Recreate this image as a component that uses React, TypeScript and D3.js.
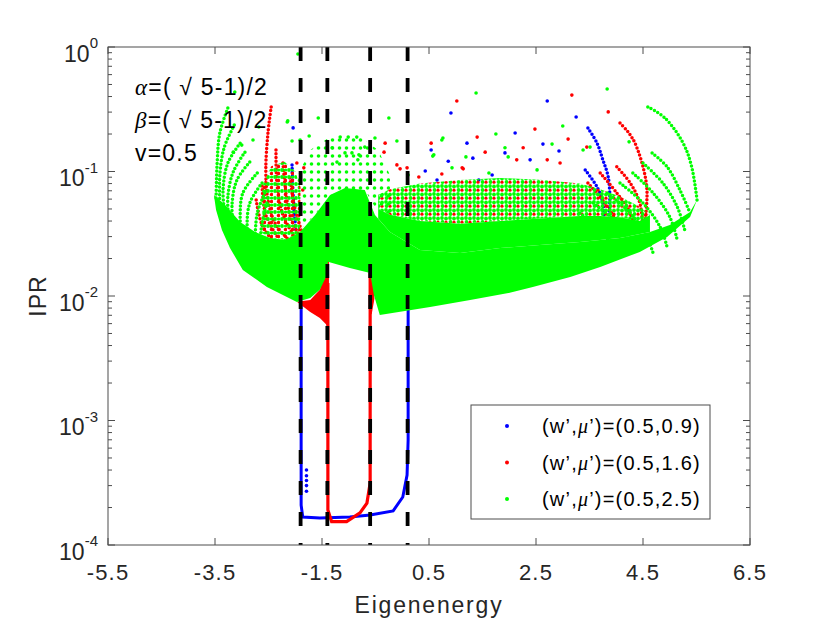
import React from "react";
import * as d3 from "d3";

type Pt = [number, number];

const xTicks = [-5.5, -3.5, -1.5, 0.5, 2.5, 4.5, 6.5];
const yExponents = [0, -1, -2, -3, -4];
const dashedX = [-1.9, -1.4, -0.6, 0.1];
const legendLabels = ["(0.5,0.9)", "(0.5,1.6)", "(0.5,2.5)"];
const seriesColors = ["#0000ff", "#ff0000", "#00ff00"];

// ---- green (w',mu')=(0.5,2.5) ----
const greenLower: Pt[] = [
  [-3.52, 0.0648], [-3.48, 0.049], [-3.37, 0.0339], [-3.22, 0.0243], [-2.98, 0.0162],
  [-2.53, 0.0118], [-1.97, 0.00895], [-1.72, 0.00964], [-1.54, 0.0112], [-1.41, 0.0147],
  [-1.39, 0.0188], [-0.98, 0.0168], [-0.6, 0.0153], [-0.53, 0.0102], [-0.42, 0.00703],
  [0.52, 0.00816], [1.27, 0.0093], [2.01, 0.0106], [2.44, 0.0118], [3.14, 0.0142],
  [3.7, 0.0171], [4.44, 0.0226], [4.95, 0.0298], [5.38, 0.0431], [5.51, 0.059],
];
const greenTop: Pt[] = [
  [-3.52, 0.0648], [-3.31, 0.0538], [-3.03, 0.0393], [-2.75, 0.0327], [-2.47, 0.0292],
  [-2.19, 0.0282], [-1.91, 0.0327], [-1.63, 0.0448], [-1.35, 0.0648], [-1.07, 0.0736],
  [-0.7, 0.071], [-0.51, 0.0448], [-0.23, 0.0327], [0.33, 0.0234], [1.08, 0.0221],
  [1.83, 0.0243], [2.57, 0.0257], [3.32, 0.0272], [4.07, 0.0292], [4.63, 0.0327],
  [5.0, 0.0372], [5.38, 0.0473], [5.51, 0.059],
];
const midDotsTop: Pt[] = [
  [-1.95, 0.0938], [-1.72, 0.149], [-1.35, 0.189], [-0.79, 0.189], [-0.45, 0.149], [-0.23, 0.0938],
];
const midDotsBase: Pt[] = [
  [-1.95, 0.0327], [-1.63, 0.0448], [-1.35, 0.0648], [-0.7, 0.071], [-0.23, 0.0327],
];
const greenArcs: Pt[][] = [
  [[-3.26, 0.324], [-3.41, 0.204], [-3.46, 0.117], [-3.48, 0.059]],
  [[-3.14, 0.236], [-3.33, 0.155], [-3.41, 0.0938], [-3.41, 0.0538]],
  [[-3.03, 0.169], [-3.26, 0.117], [-3.35, 0.071], [-3.31, 0.0431]],
  [[-2.94, 0.143], [-3.16, 0.0991], [-3.26, 0.0624], [-3.24, 0.0393]],
  [[-2.85, 0.119], [-3.09, 0.0855], [-3.18, 0.0558], [-3.16, 0.0339]],
  [[-2.71, 0.0973], [-2.98, 0.0672], [-3.03, 0.0431], [-3.0, 0.0282]],
  [[-2.62, 0.0809], [-2.85, 0.0558], [-2.9, 0.0358], [-2.85, 0.0234]],
  [[-2.57, 0.0672], [-2.71, 0.0464], [-2.75, 0.0298]],
  [[-2.53, 0.0558], [-2.62, 0.0386], [-2.66, 0.0267]],
  [[4.59, 0.33], [4.91, 0.269], [5.25, 0.169], [5.41, 0.109], [5.51, 0.059]],
  [[4.67, 0.141], [4.95, 0.109], [5.19, 0.071], [5.38, 0.0464]],
  [[4.5, 0.117], [4.87, 0.0809], [5.14, 0.0519], [5.28, 0.0339]],
  [[4.31, 0.0973], [4.69, 0.0672], [5.0, 0.0431], [5.14, 0.0282]],
  [[4.07, 0.0809], [4.5, 0.0558], [4.82, 0.0358], [4.95, 0.0248]],
  [[3.83, 0.0672], [4.26, 0.0464], [4.57, 0.0298], [4.69, 0.0221]],
  [[3.57, 0.0558], [4.01, 0.0386], [4.31, 0.0248]],
  [[3.32, 0.0464], [3.75, 0.0321], [4.01, 0.0221]],
];
const greenDots: Pt[] = [
  [-1.95, 0.879], [-3.13, 0.435], [-2.68, 0.228], [-2.14, 0.255], [-1.57, 0.269],
  [-1.74, 0.193], [-1.91, 0.179], [-1.16, 0.189], [-1.01, 0.189], [-0.85, 0.189],
  [-0.51, 0.186], [-0.25, 0.269], [-0.7, 0.157], [-0.1, 0.176], [-1.31, 0.155],
  [-1.07, 0.141], [-0.94, 0.141], [-0.81, 0.136], [-1.22, 0.119], [-0.83, 0.124],
  [0.76, 0.186], [1.38, 0.427], [1.75, 0.2], [1.92, 0.155], [1.19, 0.131],
  [0.59, 0.136], [0.11, 0.0938], [3.83, 0.46], [0.74, 0.179], [0.57, 0.133],
  [3.0, 0.232], [1.98, 0.131], [2.8, 0.166], [3.38, 0.149], [3.51, 0.157],
  [4.24, 0.173], [0.93, 0.107], [1.62, 0.0973], [2.52, 0.103], [-3.16, 0.143],
  [-3.0, 0.163], [-2.79, 0.179], [-2.15, 0.25], [-2.06, 0.176],
];

// ---- mixed fan regions (all three series overlapping) ----
const fanTop: Pt[] = [
  [-0.45, 0.065], [-0.23, 0.072], [0.33, 0.08], [1.08, 0.0855], [1.83, 0.0887],
  [2.57, 0.086], [3.32, 0.08], [3.7, 0.072], [4.07, 0.063], [4.44, 0.052], [4.63, 0.0448],
];
const fanMid: Pt[] = [
  [-0.45, 0.05], [-0.23, 0.045], [0.33, 0.04], [1.08, 0.038], [1.83, 0.04],
  [2.57, 0.042], [3.32, 0.044], [3.7, 0.044], [4.07, 0.043], [4.44, 0.04], [4.63, 0.0448],
];
const fanBase: Pt[] = [
  [-0.45, 0.042], [-0.23, 0.0327], [0.33, 0.0234], [1.08, 0.0221], [1.83, 0.0243],
  [2.57, 0.0257], [3.32, 0.0272], [4.07, 0.0292], [4.63, 0.0327],
];
const leftFanTop: Pt[] = [[-2.62, 0.075], [-2.45, 0.11], [-2.2, 0.12], [-2.0, 0.1], [-1.9, 0.075]];
const leftFanBase: Pt[] = [[-2.62, 0.032], [-2.47, 0.0292], [-2.19, 0.0282], [-1.91, 0.0327]];

// ---- red (w',mu')=(0.5,1.6) ----
const redU: Pt[] = [
  [-1.39, 0.0127], [-1.39, 0.000191], [-1.32, 0.000154], [-1.04, 0.000154],
  [-0.79, 0.000181], [-0.66, 0.000217], [-0.6, 0.000315], [-0.6, 0.00146], [-0.6, 0.0153],
];
const redWedge: Pt[] = [
  [-1.97, 0.009], [-1.72, 0.0093], [-1.54, 0.0112], [-1.41, 0.0195], [-1.37, 0.0195],
  [-1.37, 0.0056], [-1.54, 0.00665], [-1.72, 0.00744],
];
const redBlob: Pt[] = [[-0.62, 0.0153], [-0.55, 0.0153], [-0.52, 0.0095], [-0.57, 0.0072], [-0.62, 0.0068]];
const redArcs: Pt[][] = [
  [[-2.45, 0.33], [-2.51, 0.204], [-2.55, 0.103], [-2.51, 0.059], [-2.36, 0.0372], [-2.06, 0.0267]],
  [[-2.36, 0.149], [-2.34, 0.078], [-2.23, 0.0448], [-2.0, 0.0292]],
  [[-2.23, 0.117], [-2.17, 0.0648], [-2.08, 0.0418], [-1.93, 0.0309]],
  [[-2.1, 0.0887], [-2.02, 0.0538], [-1.89, 0.0339]],
  [[-2.62, 0.0765], [-2.55, 0.0448], [-2.32, 0.0292]],
  [[-2.73, 0.059], [-2.62, 0.0372], [-2.36, 0.0257]],
  [[4.07, 0.245], [4.22, 0.208], [4.35, 0.169], [4.5, 0.109], [4.57, 0.0751], [4.57, 0.0558], [4.54, 0.0408]],
  [[4.01, 0.109], [4.26, 0.0809], [4.44, 0.0558], [4.5, 0.0339]],
  [[3.7, 0.0973], [4.01, 0.0672], [4.26, 0.0464], [4.35, 0.0327]],
  [[3.47, 0.0809], [3.79, 0.0558], [4.03, 0.0386]],
];
const redDots: Pt[] = [
  [1.02, 0.368], [3.17, 0.411], [3.85, 0.301], [0.54, 0.169], [1.4, 0.189],
  [1.55, 0.143], [2.48, 0.219], [2.26, 0.155], [3.1, 0.182], [3.45, 0.157],
  [0.74, 0.0955], [1.12, 0.107], [2.14, 0.124], [2.71, 0.124], [2.95, 0.117],
  [0.31, 0.0903], [0.09, 0.107], [-0.32, 0.169], [-0.34, 0.143], [-0.1, 0.113],
  [-0.04, 0.105], [1.14, 0.105], [-1.97, 0.117], [-1.84, 0.107], [-1.86, 0.071],
];

// ---- blue (w',mu')=(0.5,0.9) ----
const blueU: Pt[] = [
  [-1.89, 0.00879], [-1.89, 0.000209], [-1.86, 0.000168], [-1.54, 0.000165],
  [-0.98, 0.000168], [-0.6, 0.000174], [-0.17, 0.000188], [0.01, 0.000243],
  [0.09, 0.000365], [0.11, 0.000697], [0.11, 0.00879],
];
const blueArcs: Pt[][] = [
  [[3.47, 0.224], [3.64, 0.169], [3.75, 0.124], [3.85, 0.0903], [3.88, 0.059], [3.86, 0.0448]],
  [[3.42, 0.103], [3.64, 0.0751], [3.75, 0.0558], [3.77, 0.0408]],
  [[-2.06, 0.113], [-2.04, 0.0648], [-1.99, 0.0339]],
];
const blueDots: Pt[] = [
  [2.71, 0.368], [0.91, 0.295], [2.11, 0.204], [3.25, 0.274], [0.54, 0.149],
  [1.21, 0.169], [1.32, 0.128], [1.92, 0.141], [2.39, 0.124], [2.63, 0.166],
  [2.93, 0.146], [0.86, 0.121], [1.43, 0.0855], [1.68, 0.0938], [0.43, 0.101],
  [0.65, 0.0855], [-2.04, 0.224], [-1.79, 0.0004], [-1.79, 0.00036], [-1.79, 0.00033],
  [-1.79, 0.0003], [-1.79, 0.00027],
];

const FONT = "'Liberation Sans', Arial, Helvetica, sans-serif";
const SERIF = "'Liberation Serif', 'Times New Roman', serif";

export default function App() {
  const left = 108, right = 750, top = 47, bottom = 545;
  const x = d3.scaleLinear().domain([-5.5, 6.5]).range([left, right]);
  const y = d3.scaleLog().domain([1e-4, 1]).range([bottom, top]);

  const straight = d3.line<Pt>().x((d) => x(d[0])).y((d) => y(d[1]));
  const smooth = d3
    .line<Pt>()
    .x((d) => x(d[0]))
    .y((d) => y(d[1]))
    .curve(d3.curveCatmullRom.alpha(0.5));
  const closed = d3
    .line<Pt>()
    .x((d) => x(d[0]))
    .y((d) => y(d[1]))
    .curve(d3.curveLinearClosed);
  const band = (lo: Pt[], hi: Pt[]) => closed([...lo, ...hi.slice().reverse()]) || "";

  const dotted = (pts: Pt[], color: string, i: number, key: string) => (
    <path
      key={key + i}
      d={smooth(pts) || ""}
      fill="none"
      stroke={color}
      strokeWidth={3.5}
      strokeLinecap="round"
      strokeDasharray="0 3.8"
    />
  );
  const dots = (pts: Pt[], color: string, key: string) =>
    pts.map((d, i) => <circle key={key + i} cx={x(d[0])} cy={y(d[1])} r={1.8} fill={color} />);

  const minorTicks: number[] = [];
  for (let e = -4; e < 0; e++) for (let m = 2; m <= 9; m++) minorTicks.push(m * 10 ** e);

  const axisColor = "#4d4d4d";
  const textColor = "#262626";

  return (
    <svg
      width={830}
      height={623}
      style={{ position: "absolute", left: 0, top: 0, background: "#fff" }}
      fontFamily={FONT}
    >
      <defs>
        <clipPath id="plot">
          <rect x={left} y={top} width={right - left} height={bottom - top} />
        </clipPath>
        <pattern id="fanUpper" width={8} height={8} patternUnits="userSpaceOnUse">
          <circle cx={2} cy={2} r={1.9} fill="#00ff00" />
          <circle cx={6} cy={2.5} r={1.9} fill="#00ff00" />
          <circle cx={2.5} cy={6} r={1.9} fill="#00ff00" />
          <circle cx={6} cy={6.2} r={1.6} fill="#ff0000" />
        </pattern>
        <pattern id="leftFan" width={7} height={7} patternUnits="userSpaceOnUse">
          <circle cx={2} cy={2} r={1.9} fill="#00ff00" />
          <circle cx={5.5} cy={5.5} r={1.7} fill="#ff0000" />
          <circle cx={5.5} cy={2} r={1.6} fill="#00ff00" />
        </pattern>
        <pattern id="greenGrid" width={7} height={8} patternUnits="userSpaceOnUse">
          <circle cx={3.5} cy={4} r={1.8} fill="#00ff00" />
        </pattern>
      </defs>

      <g clipPath="url(#plot)">
        {/* blue series */}
        <path d={straight(blueU) || ""} fill="none" stroke="#0000ff" strokeWidth={3} />
        {blueArcs.map((a, i) => dotted(a, "#0000ff", i, "ba"))}
        {dots(blueDots, "#0000ff", "bd")}

        {/* red series */}
        <path d={closed(redWedge) || ""} fill="#ff0000" />
        <path d={closed(redBlob) || ""} fill="#ff0000" />
        <path d={straight(redU) || ""} fill="none" stroke="#ff0000" strokeWidth={3.2} />
        {redArcs.map((a, i) => dotted(a, "#ff0000", i, "ra"))}
        {dots(redDots, "#ff0000", "rd")}

        {/* overlapping fans */}
        <path d={band(fanMid, fanTop)} fill="url(#fanUpper)" />
        <path d={band(fanBase, fanMid)} fill="#00ff00" />
        <path d={band(leftFanBase, leftFanTop)} fill="url(#leftFan)" />

        {/* green series */}
        <path d={band(midDotsBase, midDotsTop)} fill="url(#greenGrid)" />
        <path d={band(greenLower, greenTop)} fill="#00ff00" />
        {greenArcs.map((a, i) => dotted(a, "#00ff00", i, "ga"))}
        {dots(greenDots, "#00ff00", "gd")}

        {/* band edges */}
        {dashedX.map((v) => (
          <line
            key={v}
            x1={x(v)}
            x2={x(v)}
            y1={top}
            y2={bottom}
            stroke="#000"
            strokeWidth={3.8}
            strokeDasharray="14 17"
          />
        ))}
      </g>

      {/* axes box */}
      <rect x={left} y={top} width={right - left} height={bottom - top} fill="none" stroke={axisColor} strokeWidth={1} />
      {xTicks.map((v) => (
        <g key={"xt" + v}>
          <line x1={x(v)} x2={x(v)} y1={bottom} y2={bottom - 7} stroke={axisColor} />
          <line x1={x(v)} x2={x(v)} y1={top} y2={top + 7} stroke={axisColor} />
          <text x={x(v)} y={580} textAnchor="middle" fontSize={22} letterSpacing={1.2} fill={textColor}>
            {v.toFixed(1)}
          </text>
        </g>
      ))}
      {yExponents.map((e) => (
        <g key={"yt" + e}>
          <line x1={left} x2={left + 7} y1={y(10 ** e)} y2={y(10 ** e)} stroke={axisColor} />
          <line x1={right} x2={right - 7} y1={y(10 ** e)} y2={y(10 ** e)} stroke={axisColor} />
          <text x={98} y={y(10 ** e) + 14.5} textAnchor="end" fontSize={23} fill={textColor}>
            10
            <tspan dy={-13.5} fontSize={15}>
              {String(e)}
            </tspan>
          </text>
        </g>
      ))}
      {minorTicks.map((v) => (
        <g key={"mt" + v}>
          <line x1={left} x2={left + 4} y1={y(v)} y2={y(v)} stroke={axisColor} />
          <line x1={right} x2={right - 4} y1={y(v)} y2={y(v)} stroke={axisColor} />
        </g>
      ))}

      <text x={429} y={613} textAnchor="middle" fontSize={23} letterSpacing={1.8} fill={textColor}>
        Eigenenergy
      </text>
      <text
        transform={`translate(46, ${(top + bottom) / 2}) rotate(-90)`}
        textAnchor="middle"
        fontSize={23}
        letterSpacing={1}
        fill={textColor}
      >
        IPR
      </text>

      {/* parameters */}
      <g fontSize={23} fill="#000" letterSpacing={1.2}>
        <text x={135} y={95}>
          <tspan fontFamily={SERIF} fontStyle="italic">α</tspan>=( √ 5-1)/2
        </text>
        <text x={135} y={128}>
          <tspan fontFamily={SERIF} fontStyle="italic">β</tspan>=( √ 5-1)/2
        </text>
        <text x={135} y={161}>v=0.5</text>
      </g>

      {/* legend */}
      <rect x={471} y={405} width={239} height={114} fill="#fff" stroke={axisColor} strokeWidth={1} />
      {legendLabels.map((lab, i) => {
        const cy = 426 + i * 36.5;
        return (
          <g key={lab}>
            <circle cx={507} cy={cy} r={2} fill={seriesColors[i]} />
            <text x={542} y={cy + 7} fontSize={20} letterSpacing={1.2} fill="#000">
              (w’,<tspan fontFamily={SERIF} fontStyle="italic">μ</tspan>’)={lab}
            </text>
          </g>
        );
      })}
    </svg>
  );
}
